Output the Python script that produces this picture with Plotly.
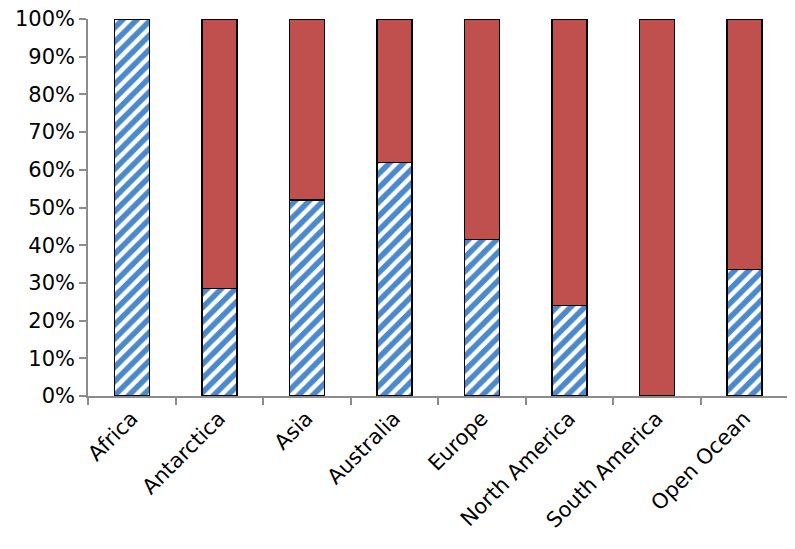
import plotly.graph_objects as go

categories = ["Africa", "Antarctica", "Asia", "Australia", "Europe",
              "North America", "South America", "Open Ocean"]
blue_share = [100, 28.5, 52, 62, 41.5, 24, 0, 33.5]
red_share = [100 - v for v in blue_share]
y_ticks = [0, 10, 20, 30, 40, 50, 60, 70, 80, 90, 100]
y_tick_labels = [f"{v}%" for v in y_ticks]

BLUE = "#4A89CC"
RED = "#C0504D"
AXIS = "#8C8C8C"

fig = go.Figure()
fig.add_trace(go.Bar(
    x=categories, y=blue_share, name="Series 1",
    marker=dict(
        color=BLUE,
        line=dict(color="black", width=1.5),
        pattern=dict(shape="/", fgcolor="white", bgcolor=BLUE,
                     size=10, solidity=0.45, fillmode="replace"),
    ),
))
fig.add_trace(go.Bar(
    x=categories, y=red_share, name="Series 2",
    marker=dict(color=RED, line=dict(color="black", width=1.5)),
))

# page body has an 8px default margin, so the figure is sized to fit
fig.update_layout(
    barmode="stack",
    bargap=0.6,
    width=787, height=541,
    margin=dict(l=80, r=7, t=11, b=153),
    plot_bgcolor="white", paper_bgcolor="white",
    showlegend=False,
    font=dict(family="DejaVu Sans", size=21, color="black"),
)
fig.update_yaxes(
    range=[0, 100], tickvals=y_ticks, ticktext=y_tick_labels,
    showgrid=False, showline=True, linecolor=AXIS, linewidth=1.5,
    ticks="outside", ticklen=7, tickcolor=AXIS, tickwidth=1.5,
    zeroline=False, automargin=False, ticklabeloverflow="allow",
    tickfont=dict(family="DejaVu Sans", size=21, color="black"),
)
fig.update_xaxes(
    showgrid=False, showline=True, linecolor=AXIS, linewidth=1.5,
    ticks="outside", ticklen=7, tickcolor=AXIS, tickwidth=1.5,
    tickson="boundaries", tickangle=-45, automargin=False,
    ticklabeloverflow="allow",
    tickfont=dict(family="DejaVu Sans", size=21, color="black"),
)

fig.write_html("out.html")
